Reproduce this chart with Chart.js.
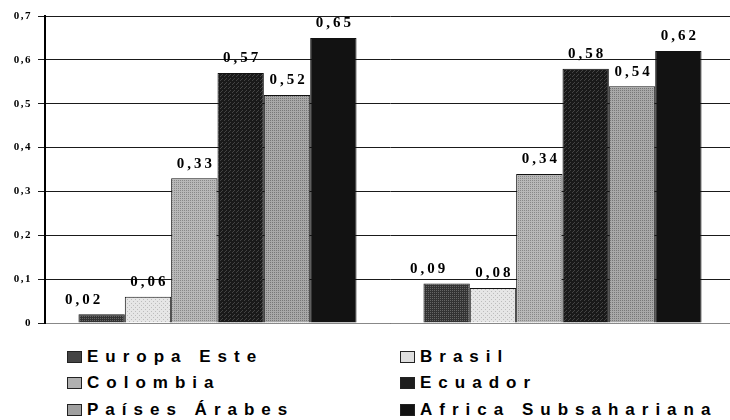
<!DOCTYPE html>
<html><head><meta charset="utf-8">
<script src="https://cdn.jsdelivr.net/npm/chart.js@4.4.1/dist/chart.umd.min.js"></script>
<style>
html,body{margin:0;padding:0;background:#fff;overflow:hidden;width:730px;height:420px;}
#wrap{position:relative;width:730px;height:420px;overflow:hidden;}
canvas{position:absolute;left:0;top:0;}
.leg{position:absolute;font-family:'Liberation Sans',Arial,sans-serif;font-weight:bold;font-size:17px;letter-spacing:7px;color:#000;white-space:nowrap;line-height:17px;}
.sw{position:absolute;width:13px;height:10px;border:1px solid #222;}
</style></head>
<body><div id="wrap"><canvas id="c" width="740" height="339"></canvas><div id="legend"></div></div>
<script>
const categories = ['1', '2'];
const seriesNames = ['Europa Este', 'Brasil', 'Colombia', 'Ecuador', 'Países Árabes', 'Africa Subsahariana'];
const europaEste = [0.02, 0.09];
const brasil = [0.06, 0.08];
const colombia = [0.33, 0.34];
const ecuador = [0.57, 0.58];
const paisesArabes = [0.52, 0.54];
const africaSub = [0.65, 0.62];
const yTicks = [0, 0.1, 0.2, 0.3, 0.4, 0.5, 0.6, 0.7];

function pattern(a, b, mode) {
  const t = document.createElement('canvas');
  t.width = 4; t.height = 4;
  const g = t.getContext('2d');
  g.fillStyle = a; g.fillRect(0, 0, 4, 4);
  g.fillStyle = b;
  if (mode === 'check') { g.fillRect(0, 0, 1, 1); g.fillRect(2, 2, 1, 1); g.fillRect(2, 0, 1, 1); g.fillRect(0, 2, 1, 1); }
  else if (mode === 'dot') { g.fillRect(1, 1, 1, 1); g.fillRect(3, 3, 1, 1); }
  else if (mode === 'fine') { g.fillRect(0, 0, 1, 1); g.fillRect(2, 2, 1, 1); g.fillRect(1, 3, 1, 1); }
  return document.getElementById('c').getContext('2d').createPattern(t, 'repeat');
}

const fills = [
  pattern('#333333', '#666666', 'check'),
  pattern('#e6e6e6', '#bdbdbd', 'dot'),
  pattern('#b8b8b8', '#888888', 'check'),
  pattern('#191919', '#444444', 'fine'),
  pattern('#a8a8a8', '#777777', 'check'),
  pattern('#121212', '#121212', 'fine')
];
const swatchCss = ['#444444', '#dedede', '#b0b0b0', '#1e1e1e', '#a0a0a0', '#121212'];
const seriesData = [europaEste, brasil, colombia, ecuador, paisesArabes, africaSub];

const datasets = seriesNames.map((n, i) => ({
  label: n,
  data: seriesData[i],
  backgroundColor: fills[i],
  borderColor: '#111',
  borderWidth: 1,
  labelShift: i === 0 ? -19 : 0
}));

const valueLabels = {
  id: 'valueLabels',
  afterDatasetsDraw(chart) {
    const ctx = chart.ctx;
    ctx.save();
    ctx.font = 'bold 15px "Liberation Serif", serif';
    ctx.letterSpacing = '3px';
    ctx.fillStyle = '#000';
    ctx.textAlign = 'center';
    ctx.textBaseline = 'bottom';
    chart.data.datasets.forEach((ds, i) => {
      const meta = chart.getDatasetMeta(i);
      meta.data.forEach((bar, j) => {
        const t = ds.data[j].toFixed(2).replace('.', ',');
        ctx.fillText(t, bar.x + (ds.labelShift || 0) + 1.5, bar.y - 7);
      });
    });
    ctx.restore();
  }
};
const spacing = {
  id: 'spacing',
  beforeDraw(chart) { chart.ctx.letterSpacing = '1.5px'; },
  afterDraw(chart) { chart.ctx.letterSpacing = '0px'; }
};

new Chart(document.getElementById('c'), {
  type: 'bar',
  data: { labels: categories, datasets },
  options: {
    responsive: false,
    animation: false,
    layout: { padding: { left: 0, right: 5, top: 16, bottom: 8 } },
    plugins: { legend: { display: false }, tooltip: { enabled: false } },
    datasets: { bar: { categoryPercentage: 0.806, barPercentage: 1.0 } },
    scales: {
      x: {
        ticks: { display: false },
        grid: { display: false },
        border: { color: '#888', width: 1, dash: [1, 2] }
      },
      y: {
        min: 0, max: 0.7,
        afterBuildTicks: s => { s.ticks = yTicks.map(v => ({ value: v })); },
        afterFit: s => { s.width = 45; },
        ticks: {
          color: '#000',
          padding: 6,
          font: { family: '"Liberation Serif", serif', weight: 'bold', size: 11 },
          callback: v => v === 0 ? '0' : v.toFixed(1).replace('.', ',')
        },
        grid: { color: '#1a1a1a', lineWidth: 1, tickLength: 7 },
        border: { color: '#000', width: 2 }
      }
    }
  },
  plugins: [valueLabels, spacing]
});

const legendPos = [
  [67, 357], [400, 357],
  [67, 383], [400, 383],
  [67, 410], [400, 410]
];
const lg = document.getElementById('legend');
seriesNames.forEach((name, k) => {
  const [x, y] = legendPos[k];
  const sw = document.createElement('div');
  sw.className = 'sw';
  sw.style.left = x + 'px';
  sw.style.top = (y - 6) + 'px';
  sw.style.background = swatchCss[k];
  lg.appendChild(sw);
  const tx = document.createElement('div');
  tx.className = 'leg';
  tx.style.left = (x + 20) + 'px';
  tx.style.top = (y - 9) + 'px';
  tx.textContent = name;
  lg.appendChild(tx);
});
</script>
</body></html>
